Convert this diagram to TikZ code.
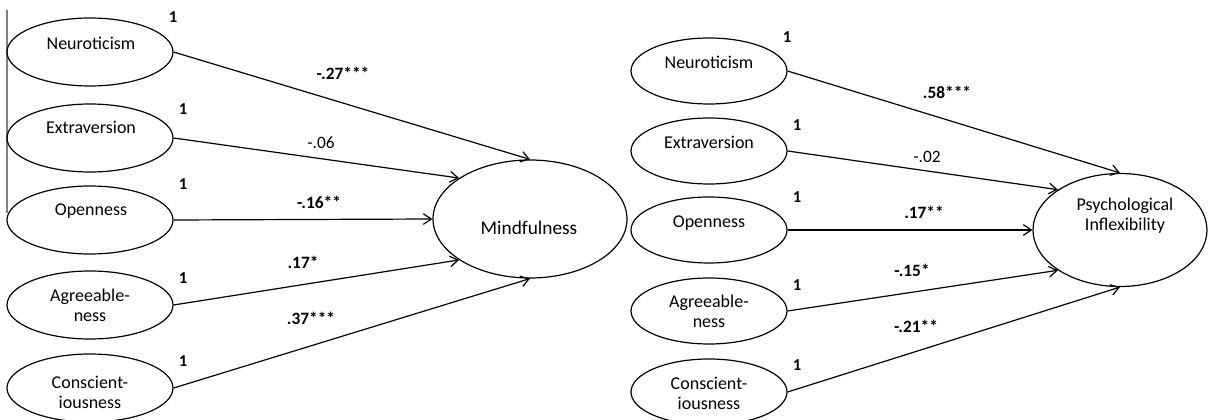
\documentclass[tikz,border=0pt]{standalone}
\usepackage{fontspec}
\setmainfont{Carlito}
\usetikzlibrary{shapes.geometric,arrows.meta}
\begin{document}
\begin{tikzpicture}[x=0.75pt,y=-0.75pt,
 latL/.style={ellipse,draw,line width=0.9pt,minimum width=124.5pt,minimum height=51pt,inner sep=0pt},
 latR/.style={ellipse,draw,line width=0.9pt,minimum width=117pt,minimum height=49.5pt,inner sep=0pt},
 txt/.style={font=\fontsize{13.5}{15}\selectfont,align=center,inner sep=0pt},
 bigtxt/.style={font=\fontsize{14.5}{16}\selectfont,align=center,inner sep=0pt},
 one/.style={font=\fontsize{12.5}{15}\selectfont\bfseries,inner sep=0pt},
 coef/.style={font=\fontsize{13}{15}\selectfont\bfseries,inner sep=0pt},
 coefn/.style={font=\fontsize{13}{15}\selectfont,inner sep=0pt},
 arr/.style={line width=0.9pt,-{Straight Barb[length=6pt,width=8pt]}}]
\useasboundingbox (0,0) rectangle (1208,420);

% left border line
\draw[gray,line width=1pt] (7,10) -- (7,213);

% ---------- left model ----------
\node[latL] (lN) at (90,52) {};
\node[latL] (lE) at (90,138) {};
\node[latL] (lO) at (90,220) {};
\node[latL] (lA) at (90,305) {};
\node[latL] (lC) at (90,388) {};
\node[txt] (lNt) at (91,43) {Neuroticism};
\node[txt] (lEt) at (91,127) {Extraversion};
\node[txt] (lOt) at (91,211) {Openness};
\node[txt] (lAt) at (90,305) {Agreeable-\\ness};
\node[txt] (lCt) at (90,392) {Conscient-\\iousness};
\node[one] (l1N) at (173,17) {1};
\node[one] (l1E) at (183,109) {1};
\node[one] (l1O) at (183,184) {1};
\node[one] (l1A) at (183,278) {1};
\node[one] (l1C) at (183,361) {1};

\node[ellipse,draw,line width=0.9pt,minimum width=145.5pt,minimum height=88.5pt,inner sep=0pt] (mind) at (530,219) {};
\node[bigtxt] (mindt) at (529,228) {Mindfulness};

\draw[arr] (lN.east) -- (mind.90);
\draw[arr] (lE.east) -- (mind.150);
\draw[arr] (lO.east) -- (mind.180);
\draw[arr] (lA.east) -- (mind.210);
\draw[arr] (lC.east) -- (mind.270);

\node[coef] (cl1) at (343,73) {-.27***};
\node[coefn] (cl2) at (321,143) {-.06};
\node[coef] (cl3) at (319,202) {-.16**};
\node[coef] (cl4) at (303,262) {.17*};
\node[coef] (cl5) at (311,318) {.37***};

% ---------- right model ----------
\node[latR] (rN) at (709,71) {};
\node[latR] (rE) at (709,151) {};
\node[latR] (rO) at (709,230) {};
\node[latR] (rA) at (709,311) {};
\node[latR] (rC) at (709,392) {};
\node[txt] (rNt) at (709,62) {Neuroticism};
\node[txt] (rEt) at (709,142) {Extraversion};
\node[txt] (rOt) at (709,223) {Openness};
\node[txt] (rAt) at (709,311) {Agreeable-\\ness};
\node[txt] (rCt) at (709,393) {Conscient-\\iousness};
\node[one] (r1N) at (787,37) {1};
\node[one] (r1E) at (797,125) {1};
\node[one] (r1O) at (797,197) {1};
\node[one] (r1A) at (797,285) {1};
\node[one] (r1C) at (797,365) {1};

\node[ellipse,draw,line width=0.9pt,minimum width=130.5pt,minimum height=84.75pt,inner sep=0pt] (psy) at (1120,230) {};
\node[txt] (psyt) at (1125,216) {Psychological\\Inflexibility};

\draw[arr] (rN.east) -- (psy.90);
\draw[arr] (rE.east) -- (psy.147);
\draw[arr] (rO.east) -- (psy.180);
\draw[arr] (rA.east) -- (psy.213);
\draw[arr] (rC.east) -- (psy.270);

\node[coef] (cr1) at (947,92) {.58***};
\node[coefn] (cr2) at (927,157) {-.02};
\node[coef] (cr3) at (924,212) {.17**};
\node[coef] (cr4) at (912,270) {-.15*};
\node[coef] (cr5) at (916,326) {-.21**};
\end{tikzpicture}
\end{document}
